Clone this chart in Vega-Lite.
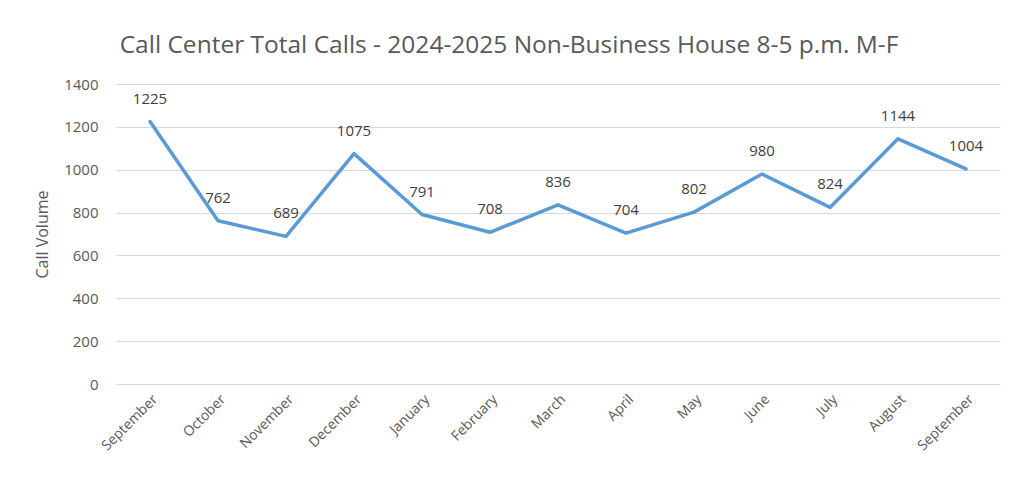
{
  "$schema": "https://vega.github.io/schema/vega-lite/v6.json",
  "width": 884,
  "height": 300,
  "autosize": {"type": "none"},
  "padding": {"left": 116, "top": 84, "right": 13, "bottom": 96},
  "background": "white",
  "title": {
    "text": "Call Center Total Calls - 2024-2025 Non-Business House 8-5 p.m. M-F",
    "font": "Open Sans",
    "fontSize": 24.5,
    "fontWeight": "normal",
    "color": "#595959",
    "anchor": "middle",
    "frame": "group",
    "dx": -49,
    "offset": 19
  },
  "data": {
    "values": [
      {"period": "September 2024", "calls": 1225},
      {"period": "October 2024", "calls": 762},
      {"period": "November 2024", "calls": 689},
      {"period": "December 2024", "calls": 1075},
      {"period": "January 2025", "calls": 791},
      {"period": "February 2025", "calls": 708},
      {"period": "March 2025", "calls": 836},
      {"period": "April 2025", "calls": 704},
      {"period": "May 2025", "calls": 802},
      {"period": "June 2025", "calls": 980},
      {"period": "July 2025", "calls": 824},
      {"period": "August 2025", "calls": 1144},
      {"period": "September 2025", "calls": 1004}
    ]
  },
  "encoding": {
    "x": {
      "field": "period",
      "type": "ordinal",
      "sort": null,
      "scale": {"type": "point", "padding": 0.5},
      "axis": {
        "title": null,
        "labelExpr": "split(datum.label, ' ')[0]",
        "labelAngle": -45,
        "labelFont": "Open Sans",
        "labelFontSize": 14,
        "labelColor": "#595959",
        "labelPadding": 8,
        "ticks": false,
        "domain": false,
        "grid": false
      }
    },
    "y": {
      "field": "calls",
      "type": "quantitative",
      "scale": {"domain": [0, 1400]},
      "axis": {
        "title": "Call Volume",
        "titleFont": "Open Sans",
        "titleFontSize": 16,
        "titleFontWeight": "normal",
        "titleColor": "#595959",
        "titlePadding": 13,
        "values": [0, 200, 400, 600, 800, 1000, 1200, 1400],
        "format": "d",
        "labelFont": "Open Sans",
        "labelFontSize": 15,
        "labelColor": "#595959",
        "labelPadding": 18,
        "ticks": false,
        "domain": false,
        "gridColor": "#d9d9d9",
        "gridWidth": 1
      }
    }
  },
  "layer": [
    {
      "mark": {"type": "line", "color": "#5B9BD5", "strokeWidth": 3.5, "strokeCap": "round", "strokeJoin": "round"}
    },
    {
      "mark": {"type": "text", "font": "Open Sans", "fontSize": 15, "color": "#404040", "dy": -23, "baseline": "middle"},
      "encoding": {"text": {"field": "calls", "type": "quantitative"}}
    }
  ],
  "config": {"view": {"stroke": null}}
}
